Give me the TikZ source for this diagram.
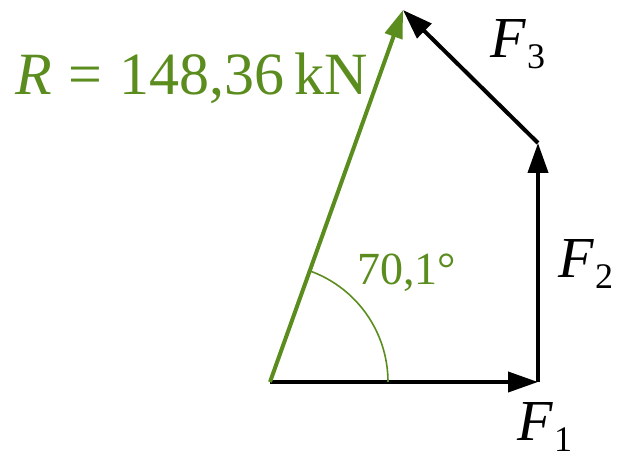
\documentclass[tikz,border=0pt]{standalone}
\usepackage{fontspec}
\setmainfont{Liberation Serif}
\usepackage{xcolor}
\definecolor{cRes}{HTML}{5B8C1E}
\definecolor{cForce}{HTML}{000000}
\usetikzlibrary{arrows.meta,positioning,calc}
\newcommand{\forcelabel}[1]{\textit{F}\kern1pt\raisebox{-11pt}{\fontsize{36}{38}\selectfont #1}}
\tikzset{
  arrow-force/.style={-{Triangle[length=30pt,width=20pt]},line width=4pt,draw=cForce},
  arrow-res/.style={-{Triangle[length=28pt,width=18pt]},line width=4pt,draw=cRes},
  angle-arc/.style={draw=cRes,line width=1.6pt},
  lbl-force/.style={inner sep=0pt,anchor=base west,font=\fontsize{58}{60}\selectfont,text=cForce},
  lbl-res/.style={inner sep=0pt,anchor=base west,font=\fontsize{60}{62}\selectfont,text=cRes},
  lbl-angle/.style={inner sep=0pt,anchor=base west,font=\fontsize{46}{48}\selectfont,text=cRes},
}
\begin{document}
\begin{tikzpicture}[x=1pt,y=-1pt]
  \useasboundingbox (0,0) rectangle (630,462);
  % corner points of the force polygon
  \coordinate (o) at (270,382);
  \coordinate (a) at (538,382);
  \coordinate (b) at (538,143);
  \coordinate (c) at (403,10);
  % forces
  \draw[arrow-force] (o) -- (a);
  \draw[arrow-force] (a) -- (b);
  \draw[arrow-force] (b) -- (c);
  % resultant and angle
  \draw[angle-arc] ($(o)+(118,0)$) arc[start angle=0,end angle=-70.1,radius=118];
  \draw[arrow-res] (o) -- (c);
  % labels
  \node[lbl-res]   (rlbl)  at (15,95)   {\textit{R}\kern2pt{} = \kern2pt148,36\,kN};
  \node[lbl-angle] (alpha) at (357,285) {70,1°};
  \node[lbl-force] (f1)    at (517,441) {\forcelabel{1}};
  \node[lbl-force] (f2)    at (558,278) {\forcelabel{2}};
  \node[lbl-force] (f3)    at (490,58)  {\forcelabel{3}};
\end{tikzpicture}
\end{document}
